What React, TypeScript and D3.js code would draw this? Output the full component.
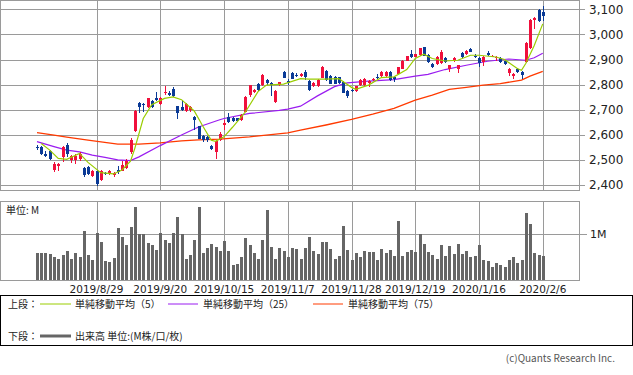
import React from 'react';
import * as d3 from 'd3';

// daily candles, oldest first (120 sessions)
const opens = [
  2553, 2552, 2522, 2536, 2460, 2474, 2510, 2559, 2499, 2499,
  2503, 2466, 2473, 2437, 2457, 2420, 2448, 2442, 2440, 2458,
  2457, 2466, 2532, 2616, 2728, 2723, 2711, 2735, 2745, 2722,
  2765, 2766, 2783, 2714, 2711, 2695, 2697, 2672, 2635, 2594,
  2590, 2557, 2532, 2579, 2640, 2672, 2668, 2665, 2658, 2692,
  2758, 2770, 2802, 2798, 2818, 2808, 2731, 2798, 2851, 2815,
  2848, 2838, 2834, 2852, 2815, 2794, 2794, 2828, 2855, 2834,
  2830, 2830, 2811, 2775, 2778, 2775, 2798, 2798, 2808, 2818,
  2832, 2834, 2834, 2851, 2830, 2844, 2864, 2895, 2921, 2910,
  2917, 2948, 2917, 2884, 2881, 2886, 2904, 2864, 2894, 2864,
  2924, 2920, 2942, 2915, 2907, 2890, 2924, 2912, 2905, 2906,
  2894, 2847, 2834, 2864, 2851, 2890, 2944, 3059, 3099, 3090,
];
const highs = [
  2560, 2555, 2535, 2540, 2490, 2487, 2555, 2568, 2518, 2525,
  2530, 2470, 2477, 2458, 2458, 2460, 2452, 2460, 2450, 2475,
  2497, 2505, 2588, 2698, 2730, 2725, 2748, 2740, 2770, 2750,
  2794, 2775, 2790, 2716, 2738, 2728, 2715, 2674, 2637, 2600,
  2596, 2560, 2578, 2610, 2660, 2685, 2672, 2668, 2682, 2755,
  2800, 2782, 2808, 2842, 2822, 2812, 2778, 2812, 2856, 2822,
  2852, 2845, 2846, 2860, 2818, 2810, 2822, 2875, 2858, 2838,
  2834, 2832, 2814, 2777, 2782, 2796, 2822, 2825, 2818, 2825,
  2842, 2853, 2853, 2855, 2834, 2872, 2898, 2915, 2937, 2922,
  2946, 2950, 2922, 2886, 2912, 2937, 2908, 2880, 2910, 2880,
  2930, 2936, 2945, 2920, 2910, 2912, 2935, 2916, 2912, 2910,
  2897, 2866, 2846, 2868, 2854, 2968, 3060, 3068, 3102, 3112,
];
const lows = [
  2540, 2520, 2512, 2498, 2452, 2457, 2490, 2512, 2488, 2485,
  2495, 2432, 2440, 2432, 2398, 2415, 2440, 2438, 2432, 2445,
  2455, 2462, 2525, 2612, 2688, 2690, 2705, 2708, 2735, 2718,
  2760, 2755, 2750, 2664, 2695, 2692, 2692, 2619, 2582, 2570,
  2570, 2538, 2505, 2575, 2620, 2648, 2650, 2650, 2655, 2690,
  2752, 2765, 2775, 2795, 2800, 2754, 2728, 2795, 2826, 2800,
  2822, 2830, 2832, 2818, 2775, 2790, 2792, 2825, 2815, 2802,
  2802, 2804, 2765, 2748, 2772, 2770, 2795, 2795, 2790, 2815,
  2824, 2832, 2830, 2815, 2810, 2842, 2862, 2893, 2906, 2908,
  2915, 2912, 2885, 2868, 2879, 2884, 2888, 2850, 2890, 2847,
  2905, 2918, 2928, 2905, 2870, 2875, 2912, 2908, 2893, 2885,
  2878, 2834, 2822, 2848, 2824, 2885, 2940, 3023, 3050, 3053,
];
const closes = [
  2550, 2523, 2516, 2502, 2483, 2485, 2551, 2523, 2515, 2517,
  2524, 2440, 2444, 2457, 2404, 2457, 2446, 2455, 2448, 2450,
  2479, 2497, 2580, 2694, 2711, 2718, 2745, 2711, 2738, 2746,
  2770, 2760, 2754, 2685, 2698, 2722, 2711, 2660, 2584, 2580,
  2578, 2542, 2574, 2605, 2646, 2652, 2655, 2655, 2678, 2751,
  2798, 2778, 2778, 2837, 2805, 2800, 2775, 2810, 2828, 2806,
  2824, 2835, 2844, 2832, 2778, 2807, 2820, 2871, 2818, 2804,
  2804, 2806, 2767, 2754, 2776, 2794, 2820, 2823, 2815, 2823,
  2827, 2851, 2851, 2818, 2824, 2871, 2895, 2913, 2908, 2921,
  2944, 2913, 2890, 2871, 2910, 2930, 2890, 2877, 2907, 2877,
  2908, 2934, 2930, 2913, 2886, 2910, 2917, 2914, 2910, 2890,
  2881, 2864, 2844, 2851, 2837, 2966, 3059, 3067, 3052, 3072,
];
// volume, millions
const volumes = [
  0.59, 0.59, 0.58, 0.57, 0.49, 0.46, 0.54, 0.63, 0.46, 0.59,
  0.49, 1.07, 0.54, 0.43, 1.03, 0.83, 0.42, 0.40, 0.48, 1.14,
  0.94, 0.77, 1.16, 1.59, 1.01, 1.01, 0.81, 0.76, 0.65, 1.03,
  0.87, 0.80, 1.03, 1.38, 0.99, 0.46, 0.54, 0.87, 1.59, 0.59,
  0.70, 0.78, 0.72, 0.62, 0.85, 0.63, 0.33, 0.35, 0.50, 0.92,
  0.76, 0.59, 0.46, 0.87, 1.52, 0.72, 0.46, 0.70, 0.63, 0.51,
  0.70, 0.68, 0.46, 0.70, 0.94, 0.62, 0.57, 0.83, 0.83, 0.67,
  0.46, 0.52, 1.18, 0.65, 0.43, 0.59, 0.50, 0.63, 0.61, 0.61,
  0.43, 0.67, 0.59, 0.65, 0.52, 1.29, 0.52, 0.61, 0.65, 0.61,
  1.01, 0.78, 0.61, 0.54, 0.46, 0.76, 0.52, 0.74, 0.57, 0.78,
  0.57, 0.63, 0.50, 0.52, 0.76, 0.43, 0.41, 0.28, 0.37, 0.33,
  0.28, 0.43, 0.50, 0.37, 0.43, 1.46, 1.22, 0.59, 0.54, 0.52,
];

// moving averages: session index -> value
const ma5Idx = [1, 3, 5, 7, 10, 12, 15, 18, 20, 22, 23, 25, 27, 30, 32, 34, 37, 39, 41, 42, 44, 46, 49, 52, 54, 58, 62, 64, 68, 71, 74, 75, 78, 81, 84, 87, 89, 91, 93, 96, 99, 102, 104, 108, 110, 113, 114, 115, 117, 119];
const ma5Val = [2565, 2539, 2506, 2502, 2526, 2490, 2449, 2444, 2460, 2495, 2545, 2665, 2720, 2745, 2751, 2740, 2695, 2635, 2578, 2574, 2592, 2630, 2690, 2772, 2798, 2802, 2824, 2822, 2822, 2824, 2789, 2781, 2798, 2828, 2831, 2860, 2904, 2921, 2904, 2894, 2897, 2917, 2917, 2910, 2900, 2864, 2857, 2884, 2956, 3042];
const ma25Idx = [0, 4, 7, 10, 13, 16, 19, 22, 24, 29, 34, 38, 43, 44, 50, 57, 59, 62, 66, 70, 73, 78, 84, 89, 92, 96, 101, 106, 111, 115, 117, 119];
const ma25Val = [2573, 2553, 2539, 2532, 2519, 2510, 2500, 2497, 2512, 2557, 2599, 2631, 2660, 2665, 2685, 2697, 2702, 2714, 2755, 2792, 2807, 2814, 2820, 2834, 2841, 2860, 2877, 2893, 2902, 2897, 2907, 2925];
const ma75Idx = [0, 4, 7, 12, 19, 24, 29, 34, 38, 43, 50, 59, 62, 68, 74, 79, 84, 89, 93, 97, 101, 105, 109, 114, 116, 119];
const ma75Val = [2609, 2599, 2591, 2579, 2563, 2563, 2568, 2576, 2580, 2583, 2592, 2608, 2619, 2639, 2661, 2682, 2705, 2738, 2758, 2781, 2789, 2798, 2804, 2818, 2834, 2853];

const dateTickIdx = [14, 29, 44, 59, 74, 89, 104, 119];
const dateLabels = ['2019/8/29', '2019/9/20', '2019/10/15', '2019/11/7', '2019/11/28', '2019/12/19', '2020/1/16', '2020/2/6'];
const priceTicks = [2400, 2500, 2600, 2700, 2800, 2900, 3000, 3100];

const UP = '#f0103c';
const DOWN = '#0a3a96';
const GRID = '#9a9a9a';
const C5 = '#9acd00';
const C25 = '#9a1cf0';
const C75 = '#ff3a00';
const VOL = '#666666';
const JP = '"Noto Sans CJK JP", "DejaVu Sans", sans-serif';
const NUM = '"DejaVu Sans", sans-serif';

export default function App() {
  const W = 633, H = 375;
  const frameR = 579;
  const x = d3.scaleLinear().domain([0, closes.length - 1]).range([37, 542.75]);
  const y = d3.scaleLinear().domain([2400, 3100]).range([185, 9.3]);
  const yv = d3.scaleLinear().domain([0, 1]).range([280, 234]);
  const fmt = d3.format(',');

  const maPath = (idx: number[], val: number[]) =>
    d3.line<number>()
      .x((_, k) => x(idx[k]))
      .y(v => y(v))(val) || '';

  const px = (i: number) => Math.round(x(i));

  return (
    <div style={{ position: 'absolute', left: 0, top: 0 }}>
      <svg width={W} height={H} style={{ display: 'block', background: '#fff' }}>
        {/* price panel */}
        <g shapeRendering="crispEdges">
          {priceTicks.map(p => (
            <line key={p} x1={0} x2={585} y1={Math.round(y(p)) + 0.5} y2={Math.round(y(p)) + 0.5} stroke={GRID} />
          ))}
          {dateTickIdx.map(i => (
            <line key={i} x1={px(i) + 0.5} x2={px(i) + 0.5} y1={0} y2={190} stroke={GRID} />
          ))}
          <rect x={0.5} y={0.5} width={frameR - 0.5} height={189.5} fill="none" stroke={GRID} />
        </g>
        {priceTicks.map(p => (
          <text key={p} x={589} y={y(p)} dy="0.35em" fontFamily={NUM} fontSize={12} fill="#222">{fmt(p)}</text>
        ))}

        <path d={maPath(ma75Idx, ma75Val)} fill="none" stroke={C75} strokeWidth={1.3} />
        <path d={maPath(ma25Idx, ma25Val)} fill="none" stroke={C25} strokeWidth={1.2} />

        {/* candles */}
        <g shapeRendering="crispEdges">
          {closes.map((c, i) => {
            const o = opens[i];
            const col = c >= o ? UP : DOWN;
            const cx = px(i);
            const top = Math.round(y(Math.max(o, c)));
            const bot = Math.round(y(Math.min(o, c)));
            return (
              <g key={i}>
                <line x1={cx + 0.5} x2={cx + 0.5} y1={y(highs[i])} y2={y(lows[i])} stroke={col} />
                <rect x={cx - 1} y={top} width={3} height={Math.max(1, bot - top)} fill={col} />
              </g>
            );
          })}
        </g>

        <path d={maPath(ma5Idx, ma5Val)} fill="none" stroke={C5} strokeWidth={1.2} />

        {/* volume panel */}
        <g shapeRendering="crispEdges">
          <line x1={0} x2={587} y1={yv(1) + 0.5} y2={yv(1) + 0.5} stroke={GRID} />
          {dateTickIdx.map(i => (
            <line key={i} x1={px(i) + 0.5} x2={px(i) + 0.5} y1={201} y2={280} stroke={GRID} />
          ))}
          {volumes.map((v, i) => (
            <rect key={i} x={px(i) - 1} y={Math.round(yv(v))} width={3} height={280 - Math.round(yv(v))} fill={VOL} />
          ))}
          <rect x={0.5} y={201.5} width={frameR - 0.5} height={79} fill="none" stroke={GRID} />
        </g>
        <text x={6} y={210} dy="0.35em" fontFamily={JP} fontSize={10} fill="#222">単位: M</text>
        <text x={590} y={yv(1)} dy="0.35em" fontFamily={NUM} fontSize={11} fill="#222">1M</text>

        {dateTickIdx.map((i, k) => (
          <text key={i} x={x(i)} y={289} dy="0.35em" textAnchor="middle" fontFamily={NUM} fontSize={10.5} fill="#222">{dateLabels[k]}</text>
        ))}

        {/* legend */}
        <rect x={0.5} y={295.5} width={632} height={50} fill="none" stroke="#000" shapeRendering="crispEdges" />
        <g fontFamily={JP} fontSize={10} fill="#222">
          <text x={8} y={304} dy="0.35em">上段：</text>
          <line x1={40} x2={71} y1={304} y2={304} stroke={C5} />
          <text x={75} y={304} dy="0.35em">単純移動平均（5）</text>
          <line x1={168} x2={198} y1={304} y2={304} stroke={C25} />
          <text x={203} y={304} dy="0.35em">単純移動平均（25）</text>
          <line x1={313} x2={343} y1={304} y2={304} stroke={C75} />
          <text x={348} y={304} dy="0.35em">単純移動平均（75）</text>
          <text x={8} y={336} dy="0.35em">下段：</text>
          <line x1={40} x2={71} y1={336} y2={336} stroke={VOL} strokeWidth={3} />
          <text x={75} y={336} dy="0.35em">出来高 単位:(M株/口/枚)</text>
        </g>
        <text x={615} y={358} dy="0.35em" textAnchor="end" fontFamily={JP} fontSize={10} fill="#555">(c)Quants Research Inc.</text>
      </svg>
    </div>
  );
}
